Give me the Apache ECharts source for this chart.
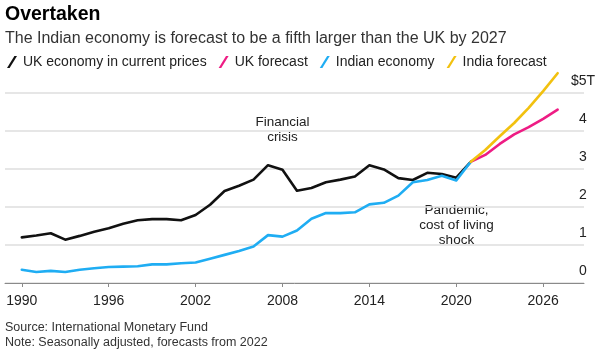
<!DOCTYPE html>
<html>
<head>
<meta charset="utf-8">
<script src="https://cdn.jsdelivr.net/npm/echarts@6/dist/echarts.min.js"></script>
<style>
html,body{margin:0;padding:0;background:#fff;}
#chart{width:600px;height:356px;}
</style>
</head>
<body>
<div id="chart"></div>
<script>
// ---- data ----
const histYears = [1990,1991,1992,1993,1994,1995,1996,1997,1998,1999,2000,2001,2002,2003,2004,2005,2006,2007,2008,2009,2010,2011,2012,2013,2014,2015,2016,2017,2018,2019,2020,2021];
const ukEconomy = [1.20,1.25,1.31,1.14,1.24,1.35,1.44,1.56,1.65,1.68,1.68,1.65,1.79,2.06,2.42,2.56,2.72,3.10,2.98,2.43,2.50,2.65,2.72,2.80,3.10,2.99,2.76,2.71,2.90,2.87,2.77,3.19];
const indiaEconomy = [0.35,0.29,0.32,0.29,0.35,0.39,0.42,0.43,0.44,0.49,0.49,0.52,0.54,0.64,0.74,0.84,0.96,1.26,1.22,1.38,1.69,1.84,1.84,1.86,2.07,2.11,2.30,2.65,2.71,2.82,2.70,3.19];
const forecastYears = [2021,2022,2023,2024,2025,2026,2027];
const ukForecast = [3.19,3.37,3.66,3.91,4.10,4.32,4.56];
const indiaForecast = [3.19,3.50,3.86,4.21,4.61,5.05,5.52];
const xTicks = [1990,1996,2002,2008,2014,2020,2026];
const yTicks = [0,1,2,3,4,5];
const seriesNames = ['UK economy in current prices','UK forecast','Indian economy','India forecast'];

const FONT = "'Liberation Sans', Arial, Helvetica, sans-serif";
const pair = (xs, ys) => xs.map((x, i) => [x, ys[i]]);
const slash = 'path://M0,12 L2.6,12 L10,0 L7.4,0 Z';

const chart = echarts.init(document.getElementById('chart'), null, {renderer: 'canvas'});

function lineSeries(name, xs, ys, color) {
  return {
    name: name, type: 'line', data: pair(xs, ys),
    showSymbol: false, symbol: 'none', smooth: false, clip: false,
    color: color,
    lineStyle: {color: color, width: 2.6, join: 'round', cap: 'round'},
    emphasis: {disabled: true}
  };
}

chart.setOption({
  animation: false,
  backgroundColor: '#fff',
  textStyle: {fontFamily: FONT},
  grid: {left: 5, right: 16, top: 93, bottom: 73, containLabel: false, outerBoundsMode: 'none'},
  legend: {
    left: 7, top: 55, padding: 0, itemGap: 12, itemWidth: 10, itemHeight: 12,
    icon: slash,
    data: seriesNames,
    selectedMode: false,
    textStyle: {fontFamily: FONT, fontSize: 14, color: '#222', padding: [0,0,0,1]}
  },
  xAxis: {
    type: 'value', min: 1988.84, max: 2028.82,
    splitLine: {show: false},
    axisLine: {show: true, lineStyle: {color: '#8a8a8a', width: 1}},
    axisTick: {show: true, length: 4, lineStyle: {color: '#8a8a8a', width: 1}, customValues: xTicks},
    axisLabel: {show: true, customValues: xTicks, margin: 11, fontFamily: FONT, fontSize: 14, color: '#222',
      formatter: v => String(v)}
  },
  yAxis: {
    type: 'value', position: 'right', min: 0, max: 5, interval: 1,
    axisLine: {show: false}, axisTick: {show: false},
    splitLine: {show: true, lineStyle: {color: '#dedede', width: 1.5}},
    axisLabel: {
      inside: true, margin: 1, align: 'center', verticalAlign: 'bottom', padding: [0,0,5,0],
      fontFamily: FONT, fontSize: 14, color: '#222',
      formatter: v => (v === 5 ? '$5T' : String(v))
    }
  },
  series: [
    lineSeries(seriesNames[0], histYears, ukEconomy, '#111111'),
    lineSeries(seriesNames[1], forecastYears, ukForecast, '#ee1c84'),
    lineSeries(seriesNames[2], histYears, indiaEconomy, '#1fadf3'),
    lineSeries(seriesNames[3], forecastYears, indiaForecast, '#f2c10f')
  ],
  graphic: [
    {type: 'text', left: 5, top: 5, style: {text: 'Overtaken', font: "bold 19.5px " + FONT, fill: '#000'}},
    {type: 'text', left: 5, top: 31, style: {text: 'The Indian economy is forecast to be a fifth larger than the UK by 2027', font: "16px " + FONT, fill: '#333'}},
    {type: 'text', x: 282.5, y: 129.5, style: {text: 'Financial\ncrisis', font: "13.5px " + FONT, fill: '#222', textAlign: 'center', textVerticalAlign: 'middle', lineHeight: 15.3}},
    {type: 'text', x: 456.5, y: 225.7, style: {text: 'Pandemic,\ncost of living\nshock', font: "13.5px " + FONT, fill: '#222', textAlign: 'center', textVerticalAlign: 'middle', lineHeight: 15}},
    {type: 'text', left: 5, top: 321, style: {text: 'Source: International Monetary Fund', font: "12.5px " + FONT, fill: '#333'}},
    {type: 'text', left: 5, top: 336, style: {text: 'Note: Seasonally adjusted, forecasts from 2022', font: "12.5px " + FONT, fill: '#333'}}
  ]
});
</script>
</body>
</html>
